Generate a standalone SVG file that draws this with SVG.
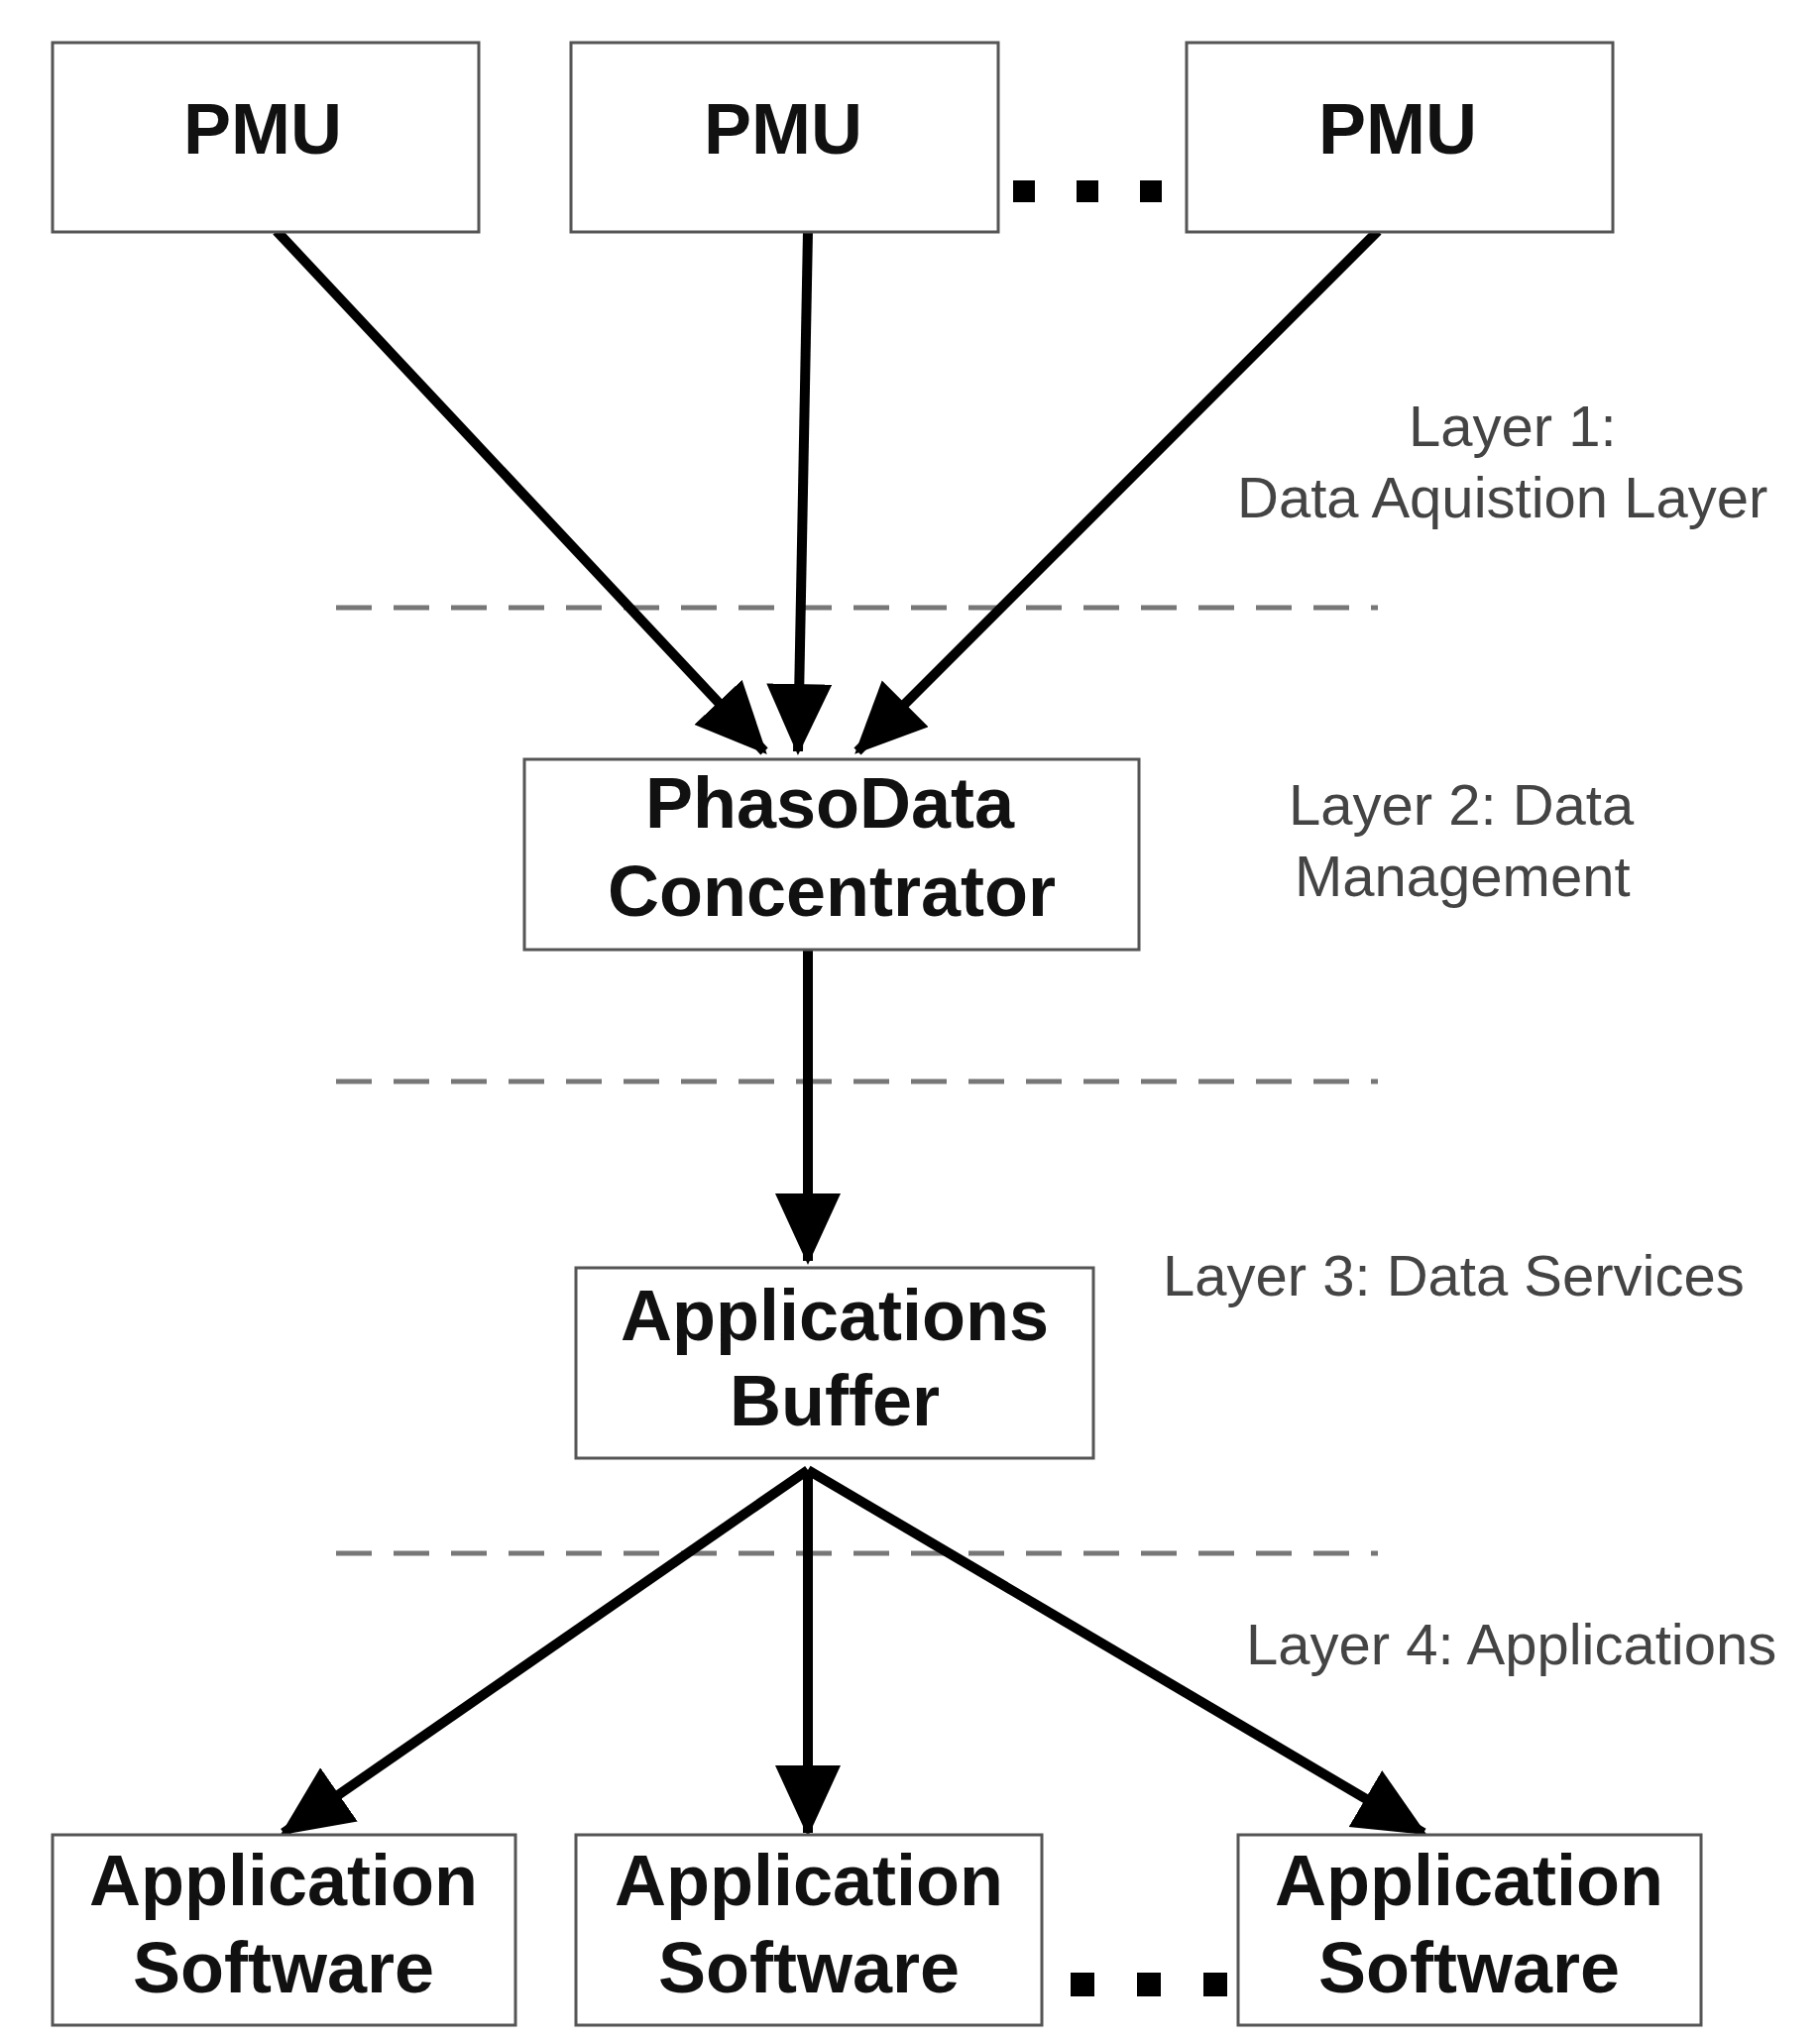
<svg xmlns="http://www.w3.org/2000/svg" width="1836" height="2060" viewBox="0 0 1836 2060">
<style>
.box{fill:#fff;stroke:#555;stroke-width:3}
.bt{font-family:"Liberation Sans",Arial,sans-serif;font-weight:bold;font-size:72px;fill:#111;text-anchor:middle}
.lt{font-family:"Liberation Sans",Arial,sans-serif;font-size:58px;fill:#444}
.ar{stroke:#000;stroke-width:10;fill:none;marker-end:url(#ah)}
.dash{stroke:#777;stroke-width:5;stroke-dasharray:36 22;fill:none}
</style>
<defs>
<marker id="ah" markerUnits="userSpaceOnUse" markerWidth="80" markerHeight="70" refX="68" refY="33" orient="auto">
<path d="M0,0 L72,33 L0,66 Z" fill="#000"/>
</marker>
</defs>
<rect width="1836" height="2060" fill="#fff"/>
<g id="dashes">
<line class="dash" x1="339" y1="613" x2="1390" y2="613"/>
<line class="dash" x1="339" y1="1091" x2="1390" y2="1091"/>
<line class="dash" x1="339" y1="1567" x2="1390" y2="1567"/>
</g>
<g id="connectors">
<line class="ar" x1="279" y1="233" x2="771" y2="758"/>
<line class="ar" x1="815" y1="233" x2="805" y2="758"/>
<line class="ar" x1="1390" y1="233" x2="865" y2="758"/>
<line class="ar" x1="815" y1="958" x2="815" y2="1272"/>
<line class="ar" x1="815" y1="1483" x2="286" y2="1849"/>
<line class="ar" x1="815" y1="1483" x2="815" y2="1849"/>
<line class="ar" x1="815" y1="1483" x2="1436" y2="1849"/>
</g>
<g id="pmu1"><rect class="box" x="53" y="43" width="430" height="191"/><text class="bt" x="265" y="155">PMU</text></g>
<g id="pmu2"><rect class="box" x="576" y="43" width="431" height="191"/><text class="bt" x="790" y="155">PMU</text></g>
<g id="pmu3"><rect class="box" x="1197" y="43" width="430" height="191"/><text class="bt" x="1410" y="155">PMU</text></g>
<g id="dots1" fill="#000"><rect x="1022" y="182" width="22" height="22"/><rect x="1086" y="182" width="22" height="22"/><rect x="1150" y="182" width="22" height="22"/></g>
<g id="pdc"><rect class="box" x="529" y="766" width="620" height="192"/><text class="bt" x="837" y="835">PhasoData</text><text class="bt" x="839" y="924">Concentrator</text></g>
<g id="buffer"><rect class="box" x="581" y="1279" width="522" height="192"/><text class="bt" x="842" y="1352">Applications</text><text class="bt" x="842" y="1438">Buffer</text></g>
<g id="app1"><rect class="box" x="53" y="1851" width="467" height="192"/><text class="bt" x="286" y="1922">Application</text><text class="bt" x="286" y="2010">Software</text></g>
<g id="app2"><rect class="box" x="581" y="1851" width="470" height="192"/><text class="bt" x="816" y="1922">Application</text><text class="bt" x="816" y="2010">Software</text></g>
<g id="app3"><rect class="box" x="1249" y="1851" width="467" height="192"/><text class="bt" x="1482" y="1922">Application</text><text class="bt" x="1482" y="2010">Software</text></g>
<g id="dots2" fill="#000"><rect x="1080" y="1990" width="24" height="24"/><rect x="1147" y="1990" width="24" height="24"/><rect x="1214" y="1990" width="24" height="24"/></g>
<g id="labels">
<text class="lt" x="1421" y="450">Layer 1:</text>
<text class="lt" x="1248" y="522">Data Aquistion Layer</text>
<text class="lt" x="1300" y="832">Layer 2: Data</text>
<text class="lt" x="1306" y="904">Management</text>
<text class="lt" x="1173" y="1307">Layer 3: Data Services</text>
<text class="lt" x="1257" y="1679">Layer 4: Applications</text>
</g>
</svg>
